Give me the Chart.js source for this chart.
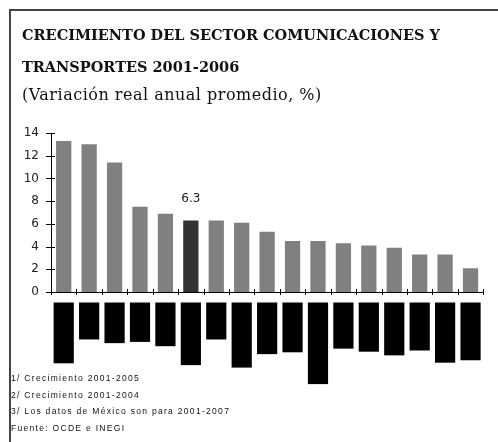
<!DOCTYPE html>
<html>
<head>
<meta charset="utf-8">
<script src="https://cdn.jsdelivr.net/npm/chart.js@4.4.1/dist/chart.umd.min.js"></script>
<style>
  html, body { margin: 0; padding: 0; background: #fff; }
  #wrap { position: relative; width: 498px; height: 442px; overflow: hidden; }
  #frame { position: absolute; left: 9px; top: 9px; width: 540px; height: 500px;
           border: 2px solid #444; box-sizing: border-box; }
  #plot { position: absolute; left: 0; top: 0; width: 498px; height: 442px; }
  .head { position: absolute; left: 22px; white-space: nowrap; color: #111; }
  .t { font: bold 14.5px "DejaVu Serif"; line-height: 14px; }
  .sub { font: 16px "DejaVu Serif"; line-height: 15px; letter-spacing: 0.5px; }
  .note { position: absolute; left: 11px; font: 8.5px "Liberation Sans"; line-height: 8px;
          letter-spacing: 1.3px; color: #111; white-space: nowrap; }
</style>
</head>
<body>
<div id="wrap">
  <div id="frame"></div>
  <div id="plot"><canvas id="chart"></canvas></div>
  <div class="head t" style="top:28px">CRECIMIENTO DEL SECTOR COMUNICACIONES Y</div>
  <div class="head t" style="top:60px">TRANSPORTES 2001-2006</div>
  <div class="head sub" style="top:87px">(Variación real anual promedio, %)</div>
  <div class="note" style="top:374px">1/ Crecimiento 2001-2005</div>
  <div class="note" style="top:391px">2/ Crecimiento 2001-2004</div>
  <div class="note" style="top:407px">3/ Los datos de México son para 2001-2007</div>
  <div class="note" style="top:424px">Fuente: OCDE e INEGI</div>
</div>
<script>
// Países ordenados por crecimiento
const categories = ['Eslovaquia', 'Corea', 'Irlanda', 'Grecia', 'Polonia', 'MÉXICO 3/',
  'Japón', 'Rep. Checa', 'Finlandia', 'Australia', 'Nueva Zelanda', 'Hungría',
  'Noruega', 'Alemania', 'Portugal', 'Dinamarca', 'Canadá 1/'];
const growth = [13.3, 13.0, 11.4, 7.5, 6.9, 6.3, 6.3, 6.1, 5.3, 4.5, 4.5, 4.3, 4.1, 3.9, 3.3, 3.3, 2.1];
const yTicks = [0, 2, 4, 6, 8, 10, 12, 14];
const highlight = 'MÉXICO 3/';

const labelFont = 11;

// tick marks crossing both axes + value label over the highlighted bar
const axisMarks = {
  id: 'axisMarks',
  afterDatasetsDraw(chart) {
    const { ctx, chartArea } = chart;
    const x = chart.scales.x, y = chart.scales.y;
    ctx.save();
    ctx.strokeStyle = '#000';
    ctx.lineWidth = 1;
    ctx.beginPath();
    yTicks.forEach(v => {
      const py = Math.round(y.getPixelForValue(v)) + 0.5;
      ctx.moveTo(chartArea.left - 5, py);
      ctx.lineTo(chartArea.left + 4, py);
    });
    for (let i = 0; i <= categories.length; i++) {
      const px = Math.round(x.getPixelForValue(i - 0.5)) + 0.5;
      ctx.moveTo(px, chartArea.bottom - 3);
      ctx.lineTo(px, chartArea.bottom + 3);
    }
    ctx.stroke();

    const idx = categories.indexOf(highlight);
    const bar = chart.getDatasetMeta(0).data[idx];
    ctx.fillStyle = '#222';
    ctx.font = '12px "DejaVu Sans"';
    ctx.textAlign = 'center';
    ctx.textBaseline = 'bottom';
    ctx.fillText(growth[idx].toFixed(1), bar.x, bar.y - 16);
    ctx.restore();
  }
};

new Chart(document.getElementById('chart'), {
  type: 'bar',
  data: {
    labels: categories,
    datasets: [{
      data: growth,
      backgroundColor: categories.map(c => c === highlight ? '#333333' : '#808080'),
      barPercentage: 0.6,
      categoryPercentage: 1
    }]
  },
  options: {
    responsive: true,
    maintainAspectRatio: false,
    animation: false,
    layout: { padding: { left: 11, right: 9, top: 133, bottom: 50 } },
    plugins: { legend: { display: false }, tooltip: { enabled: false } },
    scales: {
      x: {
        afterFit(scale) { scale.height = 100; },
        grid: { display: false, drawTicks: false },
        border: { display: true, color: '#000', width: 1 },
        ticks: {
          autoSkip: false,
          maxRotation: 90,
          minRotation: 90,
          padding: 14,
          labelOffset: -labelFont * 0.6,
          color: '#000',
          font: { family: 'Liberation Sans', size: labelFont },
          showLabelBackdrop: true,
          backdropColor: '#000',
          backdropPadding: 3.5
        }
      },
      y: {
        min: 0,
        max: 14,
        afterFit(scale) { scale.width = 40; },
        afterBuildTicks(scale) { scale.ticks = yTicks.map(v => ({ value: v })); },
        grid: { display: false, drawTicks: false },
        border: { display: true, color: '#000', width: 1 },
        ticks: {
          padding: 12,
          color: '#222',
          font: { family: 'DejaVu Sans', size: 12 }
        }
      }
    }
  },
  plugins: [axisMarks]
});
</script>
</body>
</html>
